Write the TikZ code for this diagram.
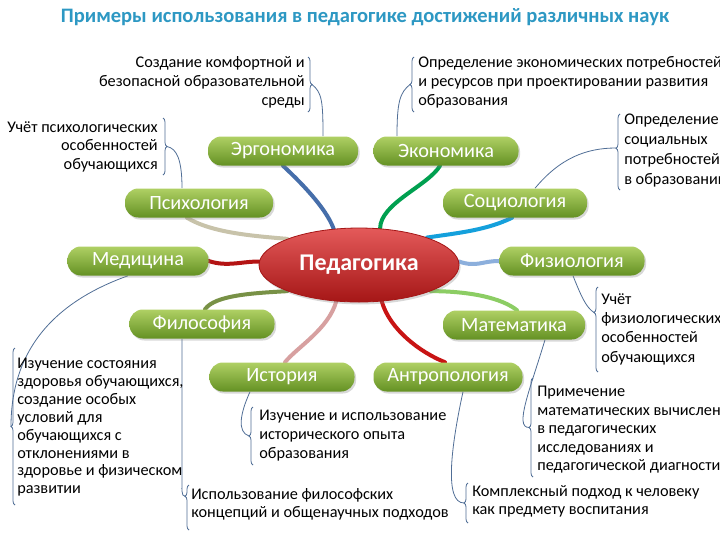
\documentclass[tikz,border=0pt]{standalone}
\usepackage{fontspec}
\setmainfont{Carlito}
\usetikzlibrary{shapes.geometric,shadows,decorations.pathreplacing,calc,backgrounds}
\definecolor{titlec}{RGB}{45,152,195}
\definecolor{gtop}{RGB}{175,208,100}
\definecolor{gmid}{RGB}{135,180,55}
\definecolor{gbot}{RGB}{100,145,35}
\definecolor{rtop}{RGB}{228,90,90}
\definecolor{rmid}{RGB}{205,38,38}
\definecolor{rbot}{RGB}{165,22,22}
\definecolor{thinc}{RGB}{80,110,150}
\definecolor{cErg}{RGB}{70,110,170}
\definecolor{cEcon}{RGB}{0,160,80}
\definecolor{cPsy}{RGB}{200,195,170}
\definecolor{cSoc}{RGB}{20,160,220}
\definecolor{cMed}{RGB}{180,20,20}
\definecolor{cPhys}{RGB}{140,175,220}
\definecolor{cPhil}{RGB}{120,145,70}
\definecolor{cMath}{RGB}{140,205,100}
\definecolor{cHist}{RGB}{215,160,160}
\definecolor{cAnth}{RGB}{200,20,20}
\tikzset{
  gnode/.style={rounded corners=10pt, minimum height=21.75pt, inner sep=2pt,
    text=white, font=\fontsize{15.2}{17}\selectfont,
    top color=gtop, middle color=gmid, bottom color=gbot,
    drop shadow={opacity=0.3, shadow xshift=1.2pt, shadow yshift=-1.5pt}},
  pnode/.style={ellipse, minimum width=150pt, minimum height=55.5pt, inner sep=0pt,
    text=white, font=\bfseries\fontsize{18}{20}\selectfont,
    top color=rtop, middle color=rmid, bottom color=rbot, draw=rbot, line width=0.6pt,
    drop shadow={opacity=0.3, shadow xshift=1.2pt, shadow yshift=-1.8pt}},
  txt/.style={inner sep=0pt, text=black, font=\fontsize{12.2}{14.2}\selectfont},
  thick link/.style={line width=3pt, line cap=round},
  thin link/.style={thinc, line width=0.6pt},
  lbrace/.style={thinc, line width=0.6pt, decorate, decoration={brace, amplitude=3pt}},
}
\begin{document}
\begin{tikzpicture}[x=0.75pt, y=-0.75pt]
\useasboundingbox (0,0) rectangle (720,540);

\node[font=\bfseries\fontsize{15.4}{17}\selectfont, text=titlec] (title) at (365,17)
  {Примеры использования в педагогике достижений различных наук};

% central node
\node[pnode] (ped) at (359,265) {Педагогика};

% science nodes
\node[gnode, minimum width=112.5pt] (ergo) at (283,151) {Эргономика};
\node[gnode, minimum width=108.75pt] (econ) at (446,151) {Экономика};
\node[gnode, minimum width=111pt] (psych) at (199,203) {Психология};
\node[gnode, minimum width=108pt] (soc) at (515,203) {Социология};
\node[gnode, minimum width=105.75pt] (med) at (138,261) {Медицина};
\node[gnode, minimum width=108.75pt] (phys) at (572,261) {Физиология};
\node[gnode, minimum width=108.75pt] (phil) at (202,324) {Философия};
\node[gnode, minimum width=106.5pt] (math) at (514,325) {Математика};
\node[gnode, minimum width=108.75pt] (hist) at (282,377) {История};
\node[gnode, minimum width=111.75pt] (anth) at (448,377) {Антропология};

% texts
\node[txt, anchor=north east, align=right] (tErg) at (305,56)
  {Создание комфортной и\\безопасной образовательной\\среды};
\node[txt, anchor=north west, align=left] (tEcon) at (418,56)
  {Определение экономических потребностей\\и ресурсов при проектировании развития\\образования};
\node[txt, anchor=north east, align=right] (tPsy) at (158,121)
  {Учёт психологических\\особенностей\\обучающихся};
\node[txt, anchor=north west, align=left, font=\fontsize{12.2}{15}\selectfont] (tSoc) at (624,114)
  {Определение\\социальных\\потребностей\\в образовании};
\node[txt, anchor=north west, align=left, font=\fontsize{12.2}{14.5}\selectfont] (tPhys) at (601,293)
  {Учёт\\физиологических\\особенностей\\обучающихся};
\node[txt, anchor=north west, align=left, font=\fontsize{12.2}{13.9}\selectfont] (tMath) at (537,386)
  {Примечение\\математических вычислений\\в педагогических\\исследованиях и\\педагогической диагностике};
\node[txt, anchor=north west, align=left, font=\fontsize{12.2}{13.5}\selectfont] (tAnth) at (472,485)
  {Комплексный подход к человеку\\как предмету воспитания};
\node[txt, anchor=north west, align=left] (tHist) at (259,410)
  {Изучение и использование\\исторического опыта\\образования};
\node[txt, anchor=north west, align=left, font=\fontsize{12.2}{13.5}\selectfont] (tPhil) at (191,488)
  {Использование философских\\концепций и общенаучных подходов};
\node[txt, anchor=north west, align=left, font=\fontsize{12.2}{13.4}\selectfont] (tMed) at (17,358)
  {Изучение состояния\\здоровья обучающихся,\\создание особых\\условий для\\обучающихся с\\отклонениями в\\здоровье и физическом\\развитии};

% braces
\draw[lbrace] (308,57) -- (308,112);
\coordinate (kErg) at (312,84.5);
\draw[lbrace] (414,112) -- (414,57);
\coordinate (kEcon) at (410,84.5);
\draw[lbrace] (163,118) -- (163,175);
\coordinate (kPsy) at (167,146.5);
\draw[lbrace, decoration={aspect=0.55}] (620,190) -- (620,114);
\coordinate (kSoc) at (616,148);
\draw[lbrace, decoration={aspect=0.7}] (598,372) -- (598,287);
\coordinate (kPhys) at (594,312.5);
\draw[lbrace] (533,477) -- (533,378);
\coordinate (kMath) at (529,427.5);
\draw[lbrace] (468,523) -- (468,483);
\coordinate (kAnth) at (464,503);
\draw[lbrace] (253,465) -- (253,407);
\coordinate (kHist) at (249,436);
\draw[lbrace, decoration={aspect=0.75}] (189,530) -- (189,485);
\coordinate (kPhil) at (185,496.25);
\draw[lbrace] (15,505) -- (15,348);
\coordinate (kMed) at (11,426.5);

\begin{scope}[on background layer]
\fill[white] (0,0) rectangle (720,540);
% thick connectors
\draw[thick link, cErg] (ergo.south) .. controls +(15,14) and +(-8,-22) .. (ped.125);
\draw[thick link, cEcon] (ped.60) .. controls +(0,-25) and +(-12,20) .. ($(econ.south)+(-6,0)$);
\draw[thick link, cPsy] ($(psych.south)+(-12,0)$) .. controls +(25,15) and +(-35,-3) .. (ped.160);
\draw[thick link, cSoc] ($(soc.south)+(-3,0)$) .. controls +(-25,12) and +(35,-5) .. (ped.22);
\draw[thick link, cMed] (med.east) .. controls +(18,6) and +(-18,0) .. (ped.178);
\draw[thick link, cPhys] (ped.2) .. controls +(18,6) and +(-18,0) .. (phys.west);
\draw[thick link, cPhil] ($(phil.north)+(3,0)$) .. controls +(10,-14) and +(-35,2) .. (ped.200);
\draw[thick link, cMath] (ped.340) .. controls +(40,0) and +(-15,-12) .. ($(math.north)+(3,0)$);
\draw[thick link, cHist] (ped.238) .. controls +(-8,28) and +(12,-15) .. ($(hist.north)+(3,0)$);
\draw[thick link, cAnth] (ped.302) .. controls +(8,28) and +(-25,-10) .. ($(anth.north)+(-3,0)$);
% thin connectors
\draw[thin link] ($(ergo.north)+(40,0)$) .. controls +(0,-35) and +(10,8) .. (kErg);
\draw[thin link] ($(econ.north)+(-49,0)$) .. controls +(0,-35) and +(-10,8) .. (kEcon);
\draw[thin link] ($(psych.north)+(-17,0)$) .. controls +(0,-28) and +(10,2) .. (kPsy);
\draw[thin link] ($(soc.north)+(20,0)$) .. controls +(25,-30) and +(-30,0) .. (kSoc);
\draw[thin link] ($(phys.south)+(1,0)$) .. controls +(8,20) and +(-8,-5) .. (kPhys);
\draw[thin link] ($(math.south)+(31,0)$) .. controls +(-15,50) and +(-15,0) .. (kMath);
\draw[thin link] ($(anth.south)+(15,0)$) .. controls +(-12,55) and +(-20,0) .. (kAnth);
\draw[thin link] ($(hist.south)+(-32,0)$) .. controls +(-10,22) and +(-12,-4) .. (kHist);
\draw[thin link] ($(phil.south)+(-20,0)$) -- ++(0,140) .. controls +(0,10) and +(-4,0) .. (kPhil);
\draw[thin link] ($(med.south)+(-10,0)$) .. controls +(-70,25) and +(0,-80) .. (kMed);
\end{scope}
\end{tikzpicture}
\end{document}
